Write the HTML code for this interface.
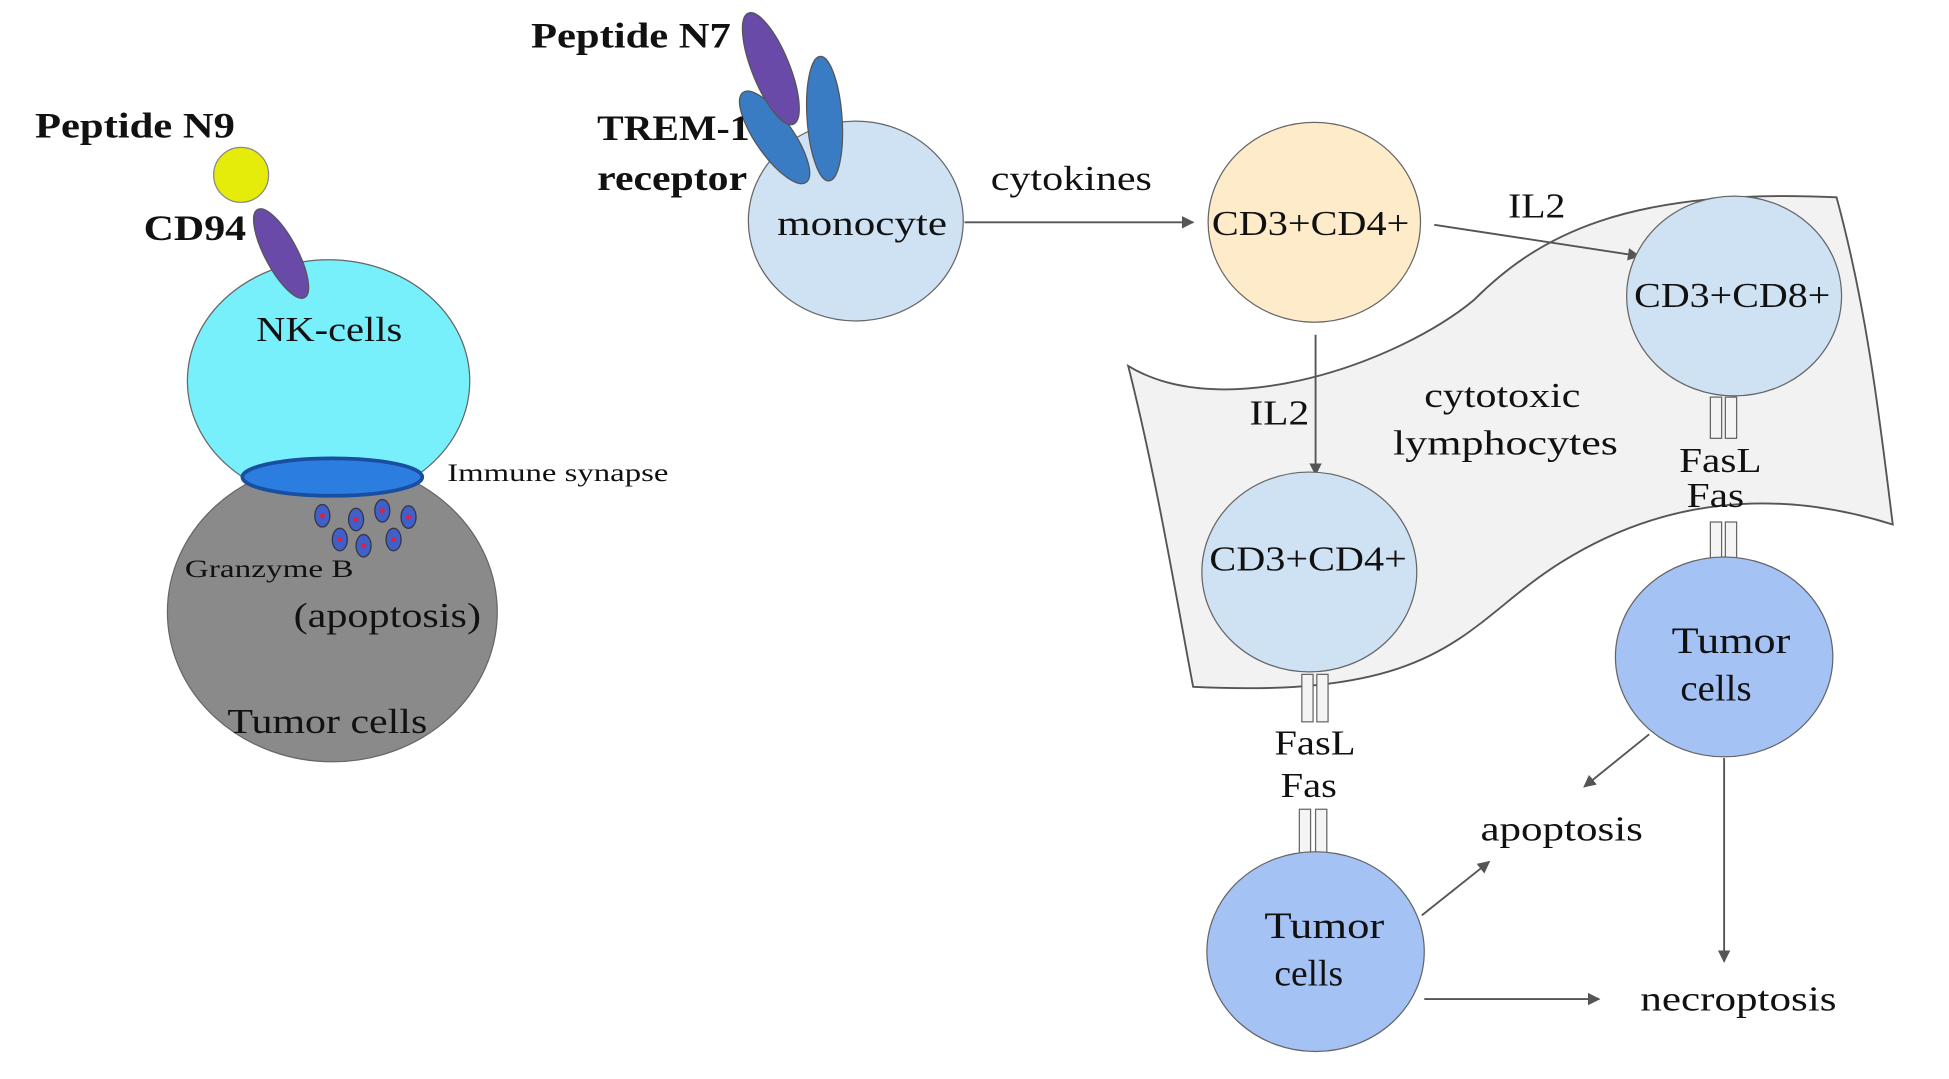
<!DOCTYPE html>
<html><head><meta charset="utf-8"><style>
html,body{margin:0;padding:0;background:#fff;overflow:hidden}
svg{display:block}
text{font-family:"Liberation Serif",serif;fill:#111}
</style></head><body>
<svg width="1949" height="1079" viewBox="0 0 1560 864" preserveAspectRatio="none" xmlns="http://www.w3.org/2000/svg">
<defs><marker id="a" markerWidth="10" markerHeight="10" refX="9" refY="5" orient="auto" markerUnits="userSpaceOnUse"><path d="M0,0 L10,5 L0,10 Z" fill="#555"/></marker></defs>
<g lengthAdjust="spacingAndGlyphs">
<!-- left -->
<text x="28" y="110" font-size="29" font-weight="bold" textLength="160" lengthAdjust="spacingAndGlyphs">Peptide N9</text>
<circle cx="193" cy="140" r="22" fill="#e5ec0a" stroke="#888"/>
<text x="115" y="192" font-size="29" font-weight="bold" textLength="82" lengthAdjust="spacingAndGlyphs">CD94</text>
<ellipse cx="263" cy="305" rx="113" ry="97" fill="#77f0fb" stroke="#666"/>
<ellipse cx="266" cy="490" rx="132" ry="120" fill="#8a8a8a" stroke="#666"/>
<ellipse cx="225" cy="203" rx="13" ry="40" transform="rotate(-28 225 203)" fill="#6a4aa8" stroke="#555"/>
<ellipse cx="266" cy="382" rx="72" ry="15" fill="#2b7de0" stroke="#1a4ea0" stroke-width="3"/>
<g fill="#4060c8" stroke="#334" stroke-width="1">
<ellipse cx="258" cy="413" rx="6" ry="9"/><ellipse cx="285" cy="416" rx="6" ry="9"/><ellipse cx="306" cy="409" rx="6" ry="9"/><ellipse cx="327" cy="414" rx="6" ry="9"/>
<ellipse cx="272" cy="432" rx="6" ry="9"/><ellipse cx="291" cy="437" rx="6" ry="9"/><ellipse cx="315" cy="432" rx="6" ry="9"/></g>
<g fill="#e02040"><circle cx="258" cy="413" r="2"/><circle cx="285" cy="416" r="2"/><circle cx="306" cy="409" r="2"/><circle cx="327" cy="414" r="2"/><circle cx="272" cy="432" r="2"/><circle cx="291" cy="437" r="2"/><circle cx="315" cy="432" r="2"/></g>
<text x="205" y="273" font-size="28" textLength="117" lengthAdjust="spacingAndGlyphs">NK-cells</text>
<text x="358" y="385" font-size="20" textLength="177" lengthAdjust="spacingAndGlyphs">Immune synapse</text>
<text x="148" y="462" font-size="20" textLength="135" lengthAdjust="spacingAndGlyphs">Granzyme B</text>
<text x="235" y="502" font-size="28" textLength="150" lengthAdjust="spacingAndGlyphs">(apoptosis)</text>
<text x="182" y="587" font-size="28" textLength="160" lengthAdjust="spacingAndGlyphs">Tumor cells</text>
<!-- monocyte -->
<ellipse cx="685" cy="177" rx="86" ry="80" fill="#cfe2f3" stroke="#666"/>
<ellipse cx="660" cy="95" rx="14" ry="50" transform="rotate(-4 660 95)" fill="#3a7cc4" stroke="#555"/>
<ellipse cx="620" cy="110" rx="15" ry="44" transform="rotate(-35 620 110)" fill="#3a7cc4" stroke="#555"/>
<ellipse cx="617" cy="55" rx="15" ry="48" transform="rotate(-22 617 55)" fill="#6a4aa8" stroke="#555"/>
<text x="425" y="38" font-size="29" font-weight="bold" textLength="160" lengthAdjust="spacingAndGlyphs">Peptide N7</text>
<text x="478" y="112" font-size="29" font-weight="bold" textLength="122" lengthAdjust="spacingAndGlyphs">TREM-1</text>
<text x="478" y="152" font-size="29" font-weight="bold" textLength="120" lengthAdjust="spacingAndGlyphs">receptor</text>
<text x="622" y="188" font-size="28" textLength="136" lengthAdjust="spacingAndGlyphs">monocyte</text>
<line x1="772" y1="178" x2="955" y2="178" stroke="#555" stroke-width="1.5" marker-end="url(#a)"/>
<text x="793" y="152" font-size="28" textLength="129" lengthAdjust="spacingAndGlyphs">cytokines</text>
<!-- sheet -->
<path d="M903,293 C980,340 1120,290 1180,240 C1230,190 1300,150 1470,158 C1495,250 1505,340 1515,420 C1420,390 1330,400 1250,450 C1170,500 1160,560 955,550 C940,470 925,380 903,293 Z" fill="#f2f2f2" stroke="#555" stroke-width="1.5"/>
<ellipse cx="1052" cy="178" rx="85" ry="80" fill="#fdebc9" stroke="#666"/>
<text x="970" y="188" font-size="28" textLength="158" lengthAdjust="spacingAndGlyphs">CD3+CD4+</text>
<line x1="1148" y1="180" x2="1312" y2="205" stroke="#555" stroke-width="1.5" marker-end="url(#a)"/>
<text x="1207" y="174" font-size="28" textLength="46" lengthAdjust="spacingAndGlyphs">IL2</text>
<ellipse cx="1388" cy="237" rx="86" ry="80" fill="#cfe2f3" stroke="#666"/>
<text x="1308" y="246" font-size="28" textLength="157" lengthAdjust="spacingAndGlyphs">CD3+CD8+</text>
<g fill="#f4f4f4" stroke="#666"><rect x="1369" y="318" width="9" height="33"/><rect x="1381" y="318" width="9" height="33"/>
<rect x="1369" y="418" width="9" height="33"/><rect x="1381" y="418" width="9" height="33"/></g>
<text x="1344" y="378" font-size="28" textLength="66" lengthAdjust="spacingAndGlyphs">FasL</text>
<text x="1350" y="406" font-size="28" textLength="46" lengthAdjust="spacingAndGlyphs">Fas</text>
<line x1="1053" y1="268" x2="1053" y2="380" stroke="#555" stroke-width="1.5" marker-end="url(#a)"/>
<text x="1000" y="340" font-size="28" textLength="48" lengthAdjust="spacingAndGlyphs">IL2</text>
<text x="1140" y="326" font-size="28" textLength="125" lengthAdjust="spacingAndGlyphs">cytotoxic</text>
<text x="1115" y="364" font-size="28" textLength="180" lengthAdjust="spacingAndGlyphs">lymphocytes</text>
<ellipse cx="1048" cy="458" rx="86" ry="80" fill="#cfe2f3" stroke="#666"/>
<text x="968" y="457" font-size="28" textLength="158" lengthAdjust="spacingAndGlyphs">CD3+CD4+</text>
<g fill="#f4f4f4" stroke="#666"><rect x="1042" y="540" width="9" height="38"/><rect x="1054" y="540" width="9" height="38"/>
<rect x="1040" y="648" width="9" height="35"/><rect x="1053" y="648" width="9" height="35"/></g>
<text x="1020" y="604" font-size="28" textLength="65" lengthAdjust="spacingAndGlyphs">FasL</text>
<text x="1025" y="638" font-size="28" textLength="45" lengthAdjust="spacingAndGlyphs">Fas</text>
<ellipse cx="1053" cy="762" rx="87" ry="80" fill="#a4c2f4" stroke="#666"/>
<text x="1012" y="751" font-size="30" textLength="96" lengthAdjust="spacingAndGlyphs">Tumor</text>
<text x="1020" y="789" font-size="30" textLength="55" lengthAdjust="spacingAndGlyphs">cells</text>
<ellipse cx="1380" cy="526" rx="87" ry="80" fill="#a4c2f4" stroke="#666"/>
<text x="1338" y="523" font-size="30" textLength="95" lengthAdjust="spacingAndGlyphs">Tumor</text>
<text x="1345" y="561" font-size="30" textLength="57" lengthAdjust="spacingAndGlyphs">cells</text>
<g stroke="#555" stroke-width="1.5" marker-end="url(#a)">
<line x1="1320" y1="588" x2="1268" y2="630"/>
<line x1="1380" y1="607" x2="1380" y2="770"/>
<line x1="1138" y1="733" x2="1192" y2="690"/>
<line x1="1140" y1="800" x2="1280" y2="800"/></g>
<text x="1185" y="673" font-size="28" textLength="130" lengthAdjust="spacingAndGlyphs">apoptosis</text>
<text x="1313" y="809" font-size="28" textLength="157" lengthAdjust="spacingAndGlyphs">necroptosis</text>
</g>
</svg>
</body></html>
